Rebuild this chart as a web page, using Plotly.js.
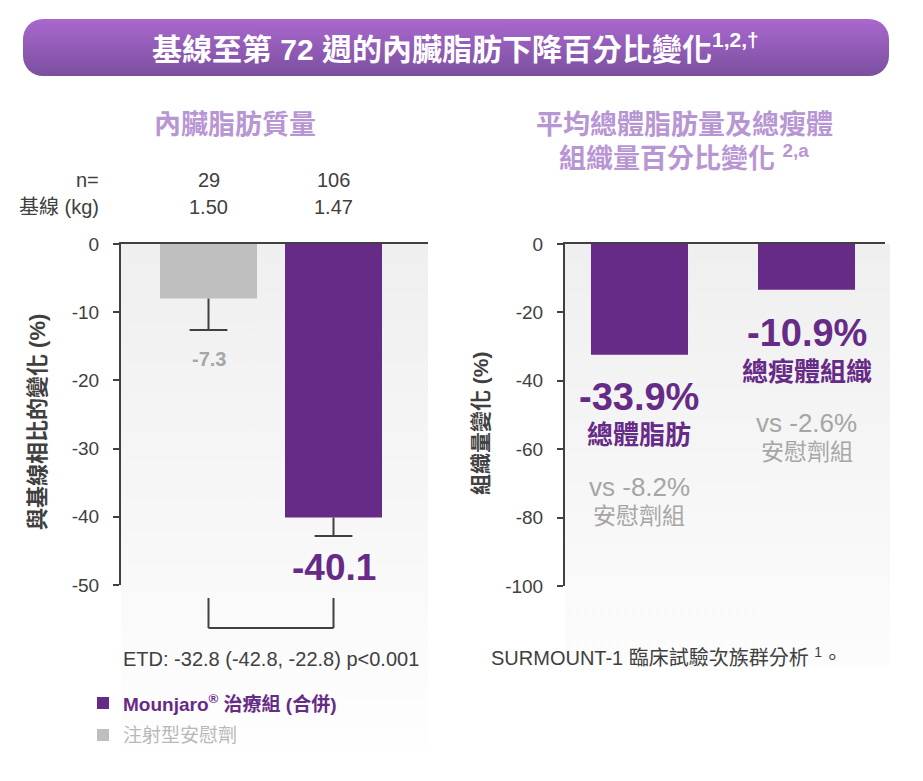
<!DOCTYPE html>
<html>
<head>
<meta charset="utf-8">
<script src="https://cdn.plot.ly/plotly-3.0.1.min.js"></script>
<style>html,body{margin:0;padding:0;background:#fff;}#chart{width:923px;height:781px;}</style>
</head>
<body>
<div id="chart"></div>
<script>
// ---- data ----
const visceralGroups = ['注射型安慰劑', 'Mounjaro 治療組 (合併)'];
const visceralChange = [-8.0, -40.1];
const visceralLower = [-12.6, -42.8];
const visceralLabels = ['-7.3', '-40.1'];
const nValues = ['29', '106'];
const baselineKg = ['1.50', '1.47'];
const compCategories = ['總體脂肪', '總瘦體組織'];
const compChange = [-32.4, -13.4];
const compLabels = ['-33.9%', '-10.9%'];
const placeboCompLabels = ['vs -8.2%', 'vs -2.6%'];
const leftTicks = [0, -10, -20, -30, -40, -50];
const rightTicks = [0, -20, -40, -60, -80, -100];

// ---- helpers ----
const W = 923, H = 781;
const X = px => px / W;
const P = py => 1 - py / H;
const FONT = "Arial, 'Liberation Sans', 'Noto Sans CJK TC', sans-serif";
const PURPLE = '#662a87';
const GRAYBAR = '#bfbfbf';
const LABELGRAY = '#a6a6a6';
const DARK = '#404040';
const LAVENDER = '#b896d4';

function grad(x0, y0, x1, y1, c1, c2, rx) {
  const w = x1 - x0, h = y1 - y0;
  const svg = "<svg xmlns='http://www.w3.org/2000/svg' width='" + w + "' height='" + h + "'>" +
    "<defs><linearGradient id='g' x1='0' y1='0' x2='0' y2='1'>" +
    "<stop offset='0' stop-color='" + c1 + "'/><stop offset='1' stop-color='" + c2 + "'/>" +
    "</linearGradient></defs><rect width='" + w + "' height='" + h + "' rx='" + rx + "' fill='url(#g)'/></svg>";
  return {
    source: 'data:image/svg+xml;charset=utf-8,' + encodeURIComponent(svg),
    xref: 'paper', yref: 'paper', x: X(x0), y: P(y0), sizex: w / W, sizey: h / H,
    xanchor: 'left', yanchor: 'top', sizing: 'stretch', layer: 'below'
  };
}

// ---- traces ----
const traces = [];
traces.push({
  type: 'bar', x: visceralGroups, y: visceralChange, xaxis: 'x', yaxis: 'y',
  width: 0.776, marker: {color: [GRAYBAR, PURPLE], line: {width: 0}},
  hoverinfo: 'skip', showlegend: false
});
// error whiskers (downward only)
const ex = [], ey = [];
visceralGroups.forEach((g, i) => { ex.push(g, g, null); ey.push(visceralChange[i], visceralLower[i], null); });
traces.push({
  type: 'scatter', mode: 'lines', x: ex, y: ey, xaxis: 'x', yaxis: 'y',
  line: {color: DARK, width: 2}, hoverinfo: 'skip', showlegend: false
});
traces.push({
  type: 'scatter', mode: 'markers', x: visceralGroups, y: visceralLower, xaxis: 'x', yaxis: 'y',
  marker: {symbol: 'line-ew', size: 27, line: {color: DARK, width: 2}},
  hoverinfo: 'skip', showlegend: false
});
traces.push({
  type: 'bar', x: compCategories, y: compChange, xaxis: 'x2', yaxis: 'y2',
  width: 0.581, marker: {color: PURPLE, line: {width: 0}},
  hoverinfo: 'skip', showlegend: false
});

// ---- annotations ----
const ann = [];
function A(o) {
  ann.push(Object.assign({showarrow: false, xanchor: 'center', yanchor: 'middle',
    font: {family: FONT, size: 20, color: DARK}}, o));
}

A({text: '基線至第 <b>72</b> 週的內臟脂肪下降百分比變化<sup>1,2,†</sup>', xref: 'paper', yref: 'paper',
   x: X(455), y: P(47), font: {family: FONT, size: 30, color: '#ffffff', weight: 'bold'}});

A({text: '內臟脂肪質量', xref: 'paper', yref: 'paper', x: X(235), y: P(125),
   font: {family: FONT, size: 27, color: LAVENDER, weight: 'bold'}});
A({text: '平均總體脂肪量及總瘦體', xref: 'paper', yref: 'paper', x: X(684), y: P(125),
   font: {family: FONT, size: 27, color: LAVENDER, weight: 'bold'}});
A({text: '組織量百分比變化 <sup>2,a</sup>', xref: 'paper', yref: 'paper', x: X(684), y: P(157),
   font: {family: FONT, size: 27, color: LAVENDER, weight: 'bold'}});

A({text: 'n=', xref: 'paper', yref: 'paper', x: X(101), y: P(180), xanchor: 'right'});
A({text: '基線 (kg)', xref: 'paper', yref: 'paper', x: X(101), y: P(207), xanchor: 'right'});
visceralGroups.forEach((g, i) => {
  A({text: nValues[i], xref: 'x', yref: 'paper', x: g, y: P(180)});
  A({text: baselineKg[i], xref: 'x', yref: 'paper', x: g, y: P(207)});
});

A({text: visceralLabels[0], xref: 'x', yref: 'paper', x: visceralGroups[0], y: P(359),
   font: {family: FONT, size: 20, color: LABELGRAY, weight: 'bold'}});
A({text: visceralLabels[1], xref: 'x', yref: 'paper', x: visceralGroups[1], y: P(567),
   font: {family: FONT, size: 37, color: PURPLE, weight: 'bold'}});

A({text: '與基線相比的變化 (%)', xref: 'paper', yref: 'paper', x: X(38), y: P(422), textangle: -90,
   font: {family: FONT, size: 22, color: DARK, weight: 'bold'}});
A({text: '組織量變化 (%)', xref: 'paper', yref: 'paper', x: X(480), y: P(423), textangle: -90,
   font: {family: FONT, size: 21, color: DARK, weight: 'bold'}});

A({text: 'ETD: -32.8 (-42.8, -22.8) p<0.001', xref: 'paper', yref: 'paper', x: X(121), y: P(659), xanchor: 'left'});
A({text: 'SURMOUNT-1 臨床試驗次族群分析 <sup>1</sup>。', xref: 'paper', yref: 'paper', x: X(489), y: P(656), xanchor: 'left'});

// legend
A({text: '<b>Mounjaro<sup>®</sup> 治療組 (合併)</b>', xref: 'paper', yref: 'paper', x: X(121), y: P(703), xanchor: 'left',
   font: {family: FONT, size: 19, color: PURPLE}});
A({text: '注射型安慰劑', xref: 'paper', yref: 'paper', x: X(121), y: P(735), xanchor: 'left',
   font: {family: FONT, size: 19, color: '#b8b8b8'}});

// right chart labels
const rightY = [[397, 435, 487, 516], [333, 372, 423, 452]];
compCategories.forEach((c, i) => {
  const ys = rightY[i];
  A({text: compLabels[i], xref: 'x2', yref: 'paper', x: c, y: P(ys[0]),
     font: {family: FONT, size: 38, color: PURPLE, weight: 'bold'}});
  A({text: c, xref: 'x2', yref: 'paper', x: c, y: P(ys[1]),
     font: {family: FONT, size: 26, color: PURPLE, weight: 'bold'}});
  A({text: placeboCompLabels[i], xref: 'x2', yref: 'paper', x: c, y: P(ys[2]),
     font: {family: FONT, size: 26, color: LABELGRAY}});
  A({text: '安慰劑組', xref: 'x2', yref: 'paper', x: c, y: P(ys[3]),
     font: {family: FONT, size: 23, color: LABELGRAY}});
});

// ---- shapes ----
const shapes = [
  // bracket under left bars
  {type: 'line', xref: 'x', yref: 'paper', x0: 0, x1: 0, y0: P(598), y1: P(628), line: {color: DARK, width: 2}},
  {type: 'line', xref: 'x', yref: 'paper', x0: 1, x1: 1, y0: P(598), y1: P(628), line: {color: DARK, width: 2}},
  {type: 'line', xref: 'x', yref: 'paper', x0: 0, x1: 1, y0: P(628), y1: P(628), line: {color: DARK, width: 2}},
  // legend squares
  {type: 'rect', xref: 'paper', yref: 'paper', x0: X(97), x1: X(109), y0: P(697), y1: P(709), fillcolor: PURPLE, line: {width: 0}},
  {type: 'rect', xref: 'paper', yref: 'paper', x0: X(97), x1: X(109), y0: P(729), y1: P(741), fillcolor: GRAYBAR, line: {width: 0}}
];

const images = [
  grad(23, 19, 889, 76, '#a968ce', '#7b4f9f', 20),
  grad(121, 244, 428, 750, '#efefef', '#fefefe', 0),
  grad(565, 244, 890, 665, '#efefef', '#fcfcfc', 0)
];

const yax = (dom, rng, tv) => ({
  domain: dom, range: rng, tickvals: tv, ticktext: tv.map(String), showgrid: false, zeroline: false,
  showline: true, linecolor: DARK, linewidth: 2, ticks: 'outside', ticklen: 6, tickwidth: 2, tickcolor: DARK,
  tickfont: {family: FONT, size: 19, color: DARK}, ticklabelstandoff: 10, fixedrange: true
});
const xax = (dom, rng, anchor) => ({
  domain: dom, range: rng, type: 'category', side: 'top', showline: true, linecolor: DARK, linewidth: 2,
  showticklabels: false, ticks: '', showgrid: false, zeroline: false, anchor: anchor, fixedrange: true
});

const layout = {
  width: W, height: H, margin: {l: 0, r: 0, t: 0, b: 0},
  paper_bgcolor: '#ffffff', plot_bgcolor: 'rgba(0,0,0,0)',
  barmode: 'overlay', showlegend: false,
  font: {family: FONT, color: DARK},
  xaxis: xax([X(121), X(428)], [-0.7, 1.756], 'y'),
  yaxis: yax([P(585), P(244)], [-50, 0], leftTicks),
  xaxis2: xax([X(565), X(885)], [-0.446, 1.47], 'y2'),
  yaxis2: yax([P(586), P(244)], [-100, 0], rightTicks),
  annotations: ann, shapes: shapes, images: images
};
layout.yaxis2.anchor = 'x2';
layout.yaxis.anchor = 'x';

Plotly.newPlot('chart', traces, layout, {staticPlot: true, displayModeBar: false});
</script>
</body>
</html>
